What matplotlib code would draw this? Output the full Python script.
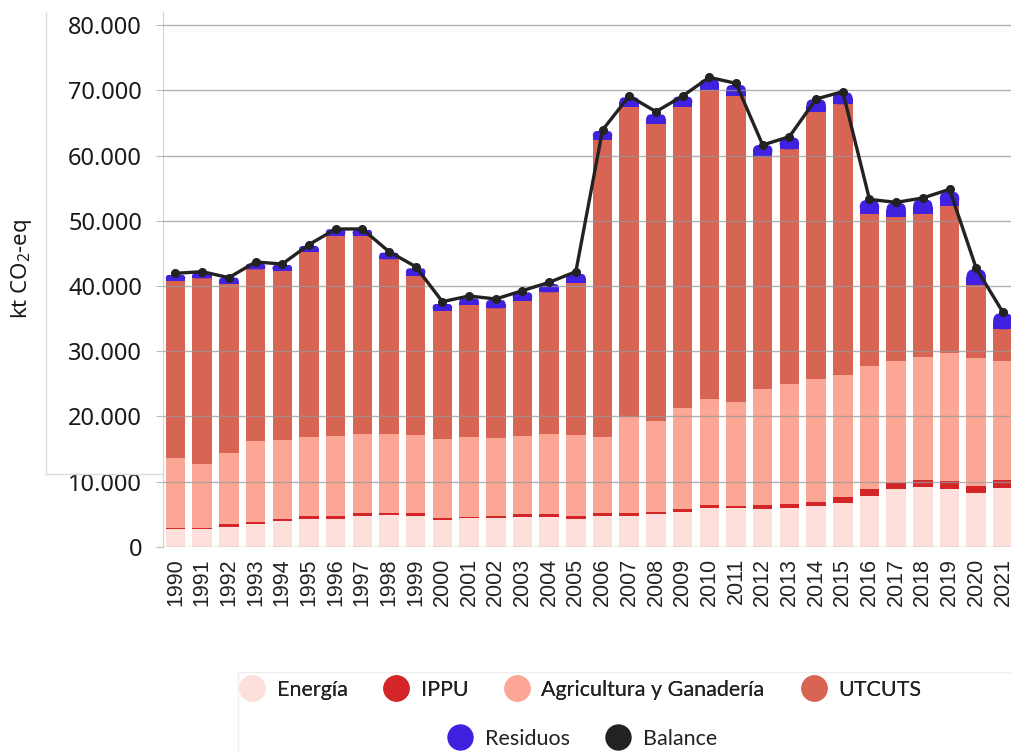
#%%
import numpy as np
import matplotlib.pyplot as plt
from matplotlib.patches import FancyBboxPatch
from matplotlib.lines import Line2D

plt.rcParams['font.family'] = ['Noto Sans', 'DejaVu Sans']
plt.rcParams['mathtext.default'] = 'regular'

# Emissions by sector [kt CO2-eq]
years = list(range(1990, 2022))
energia = [2710, 2710, 3120, 3530, 3990, 4340, 4340, 4750, 4900, 4800,
           4140, 4390, 4440, 4650, 4650, 4290, 4800, 4800, 5000, 5310,
           5920, 5920, 5770, 5920, 6280, 6690, 7870, 8840, 9250, 8890,
           8230, 9090]
ippu = [250, 250, 350, 300, 350, 460, 450, 410, 360, 360,
        300, 260, 360, 350, 410, 410, 460, 360, 410, 460,
        460, 410, 670, 620, 670, 920, 970, 920, 1020, 1230,
        1170, 1180]
agricultura = [10630, 9710, 10880, 12420, 12060, 12110, 12220, 12160, 12060, 12010,
               12160, 12160, 11960, 12010, 12260, 12470, 11650, 14810, 13900, 15580,
               16250, 15840, 17780, 18440, 18800, 18750, 18950, 18800, 18900, 19560,
               19520, 18290]
utcuts = [27230, 28500, 25960, 26300, 25900, 28300, 30710, 30380, 26770, 24420,
          19570, 20280, 19820, 20740, 21710, 23340, 45470, 47520, 45520, 46140,
          47410, 47000, 35600, 35970, 40970, 41480, 23250, 22070, 21870, 22630,
          11230, 4800]
residuos = [870, 880, 970, 880, 920, 920, 980, 900, 1020, 1120,
            1070, 1020, 1280, 1280, 1280, 1330, 1380, 1430, 1480, 1530,
            1630, 1640, 1790, 1790, 1890, 1840, 2140, 2140, 2240, 2150,
            2410, 2460]
balance = [41940, 42200, 41280, 43680, 43370, 46340, 48740, 48740, 45260, 42970,
           37600, 38470, 38010, 39290, 40560, 42200, 63910, 69120, 66720, 69120,
           71980, 71060, 61610, 62890, 68660, 69790, 53280, 52820, 53490, 54820,
           42710, 35970]

sectors = ['Energía', 'IPPU', 'Agricultura y Ganadería', 'UTCUTS', 'Residuos', 'Balance']
colors = {'Energía': '#fde0dc', 'IPPU': '#d42628', 'Agricultura y Ganadería': '#fca696',
          'UTCUTS': '#d86453', 'Residuos': '#4220e0', 'Balance': '#222222'}

# %%
fig = plt.figure(figsize=(10.12, 7.53), dpi=100)
ax = fig.add_axes([0.161, 0.2736, 0.839, 0.7105])

x = np.arange(len(years))
W = 0.73
bottom = np.zeros(len(years))
for name, vals in zip(sectors[:4], [energia, ippu, agricultura, utcuts]):
    ax.bar(x, vals, W, bottom=bottom, color=colors[name], zorder=2, linewidth=0)
    bottom += np.array(vals)

# residuos with a rounded top
ASPECT = 4091.0
ax.bar(x, np.array(residuos) * 0.5, W, bottom=bottom, color=colors['Residuos'],
       zorder=2, linewidth=0)
for xi, b, h in zip(x, bottom, residuos):
    rs = min(0.28, h / ASPECT / 2, W / 2)
    p = FancyBboxPatch((xi - W / 2, b), W, h,
                       boxstyle='round,pad=0,rounding_size=%f' % rs,
                       mutation_aspect=ASPECT, fc=colors['Residuos'], ec='none', zorder=2)
    ax.add_patch(p)

ax.plot(x, balance, '-o', color=colors['Balance'], lw=2.4, ms=5.5, zorder=5)

ax.set_xlim(-0.47, 31.34)
ax.set_ylim(0, 82000)
ax.set_yticks(np.arange(0, 80001, 10000))
ax.set_yticklabels(['0'] + ['%d.000' % (v // 1000) for v in range(10000, 80001, 10000)],
                   fontsize=17, color='#1a1a1a')
ax.set_xticks(x)
ax.set_xticklabels([str(y) for y in years], rotation=90, fontsize=15.5,
                   family=['Liberation Sans'], color='#222222')
ax.tick_params(axis='x', length=0, pad=8)
ax.tick_params(axis='y', length=5, color='#bbbbbb', pad=10)
ax.yaxis.grid(True, color='#999999', lw=1, alpha=0.75, zorder=3)
ax.set_axisbelow(False)
for s in ['top', 'right', 'bottom']:
    ax.spines[s].set_visible(False)
ax.spines['left'].set_color('#d5d5d5')
ax.set_ylabel('kt CO$_2$-eq', fontsize=16, color='#1a1a1a')
ax.yaxis.set_label_coords(-0.152, 0.52)

# faint box to the left of the axis
fig.add_artist(Line2D([46 / 1012, 46 / 1012], [1 - 12 / 753, 1 - 474 / 753],
                      color='#dddddd', lw=1))
fig.add_artist(Line2D([46 / 1012, 162 / 1012], [1 - 474 / 753, 1 - 474 / 753],
                      color='#dddddd', lw=1))

# legend: two centred rows inside a light frame
def handle(name):
    return Line2D([], [], ls='none', marker='o', ms=19, mec='none', mfc=colors[name])

leg_kw = dict(frameon=False, handlelength=1.25, handletextpad=0.5,
              columnspacing=1.65, loc='center', prop={'family': 'Lato', 'size': 15.5})
leg1 = fig.legend([handle(n) for n in sectors[:4]], sectors[:4], ncol=4,
                  bbox_to_anchor=(0.573, 1 - 690 / 753), **leg_kw)
leg2 = fig.legend([handle(n) for n in sectors[4:]], sectors[4:], ncol=2,
                  bbox_to_anchor=(0.575, 1 - 739 / 753), **leg_kw)
for leg in (leg1, leg2):
    for t in leg.get_texts():
        t.set_color('#222222')
fig.add_artist(leg1)
fig.add_artist(plt.Rectangle((238 / 1012, -0.05), 0.8, 1 - 672 / 753 + 0.05,
                             transform=fig.transFigure, fill=False,
                             ec='#eeeeee', lw=1))

plt.savefig('out.png', dpi=100)
# %%
